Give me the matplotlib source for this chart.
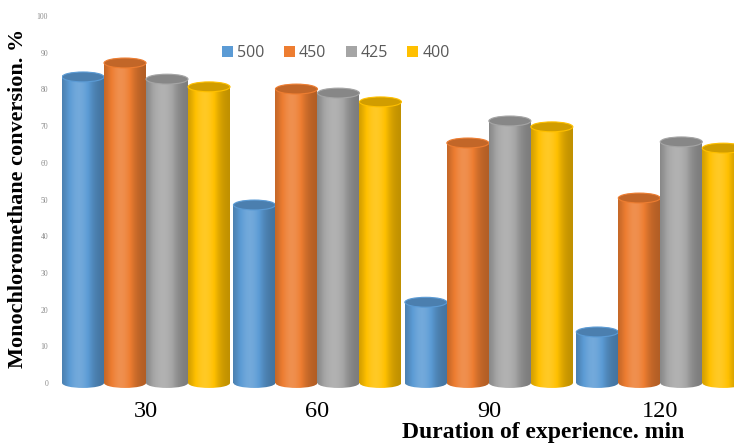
import numpy as np
import matplotlib
matplotlib.use("Agg")
from matplotlib import pyplot as plt
from matplotlib.patches import Ellipse, Patch
from matplotlib.colors import to_rgb

# conversion of monochloromethane (%) vs duration, per temperature
durations = ["30", "60", "90", "120"]
temps = ["500", "450", "425", "400"]
conv_500 = [83.4, 48.5, 22.0, 13.9]
conv_450 = [87.2, 80.1, 65.4, 50.4]
conv_425 = [82.8, 79.0, 71.4, 65.7]
conv_400 = [80.7, 76.6, 69.8, 64.0]
series = [conv_500, conv_450, conv_425, conv_400]
colors = ["#5B9BD5", "#ED7D31", "#A5A5A5", "#FFC000"]

fig = plt.figure(figsize=(7.34, 4.45), dpi=100)
ax = fig.add_axes([0.0845, 0.1146, 0.9155, 0.8494])

w = 0.245      # bar width in group units
eh = 2.7       # ellipse height in data units


def shade(base, n=60):
    # horizontal light profile of a cylinder
    rgb = np.array(to_rgb(base))
    t = np.linspace(-1, 1, n)
    f = 0.74 + 0.42 * np.exp(-((t + 0.2) / 0.65) ** 2)
    out = []
    for k in f:
        if k <= 1:
            out.append(rgb * k)
        else:
            out.append(rgb + (1 - rgb) * (k - 1) * 0.9)
    return np.clip(np.array(out), 0, 1)[None, :, :]


z = 2
for g in range(len(durations)):
    for i, vals in enumerate(series):
        x0 = g + (i - 1.5) * w
        v = vals[g]
        img = shade(colors[i])
        body = ax.bar(x0, v, width=w, color="none", linewidth=0, zorder=z)[0]
        im = ax.imshow(img, extent=(x0 - w / 2, x0 + w / 2, -eh, v),
                       aspect="auto", interpolation="bilinear", zorder=z)
        im.set_clip_path(body)
        bottom = Ellipse((x0, 0), w, eh, fill=False, linewidth=0, zorder=z)
        ax.add_patch(bottom)
        im2 = ax.imshow(img, extent=(x0 - w / 2, x0 + w / 2, -eh, v),
                        aspect="auto", interpolation="bilinear", zorder=z)
        im2.set_clip_path(bottom)
        top_col = np.array(to_rgb(colors[i])) * 0.82
        ax.add_patch(Ellipse((x0, v), w, eh, facecolor=top_col,
                             edgecolor=colors[i], linewidth=0.8, zorder=z + 0.5))
        z += 1

ax.set_xlim(-0.49, 3.43)
ax.set_ylim(-3, 100)
for s in ax.spines.values():
    s.set_visible(False)
ax.set_facecolor("none")

ax.set_xticks(range(len(durations)))
ax.set_xticklabels(durations, fontsize=17.5, family="Liberation Serif")
ax.set_yticks(range(0, 101, 10))
ax.set_yticklabels([str(t) for t in range(0, 101, 10)], fontsize=5.5,
                   family="Liberation Serif", color="#8c8c8c")
ax.tick_params(axis="x", length=0, pad=5)
ax.tick_params(axis="y", length=0, pad=10)

fig.text(18 / 734, 1 - 198 / 445, "Monochloromethane conversion. %",
         rotation=90, ha="center", va="center", fontsize=16,
         fontweight="bold", family="Liberation Serif")
fig.text(543 / 734, 1 - 438 / 445, "Duration of experience. min",
         ha="center", va="baseline", fontsize=17, fontweight="bold",
         family="Liberation Serif")

handles = [Patch(facecolor=c, edgecolor="none") for c in colors]
leg = fig.legend(handles, temps, loc="center", bbox_to_anchor=(336 / 734, 1 - 53 / 445),
                 ncol=4, frameon=False, handlelength=0.7,
                 handleheight=0.7, handletextpad=0.25, columnspacing=1.2,
                 prop={"family": "Open Sans", "size": 11.5})
for t in leg.get_texts():
    t.set_color("#595959")

fig.savefig("out.png", dpi=100)
